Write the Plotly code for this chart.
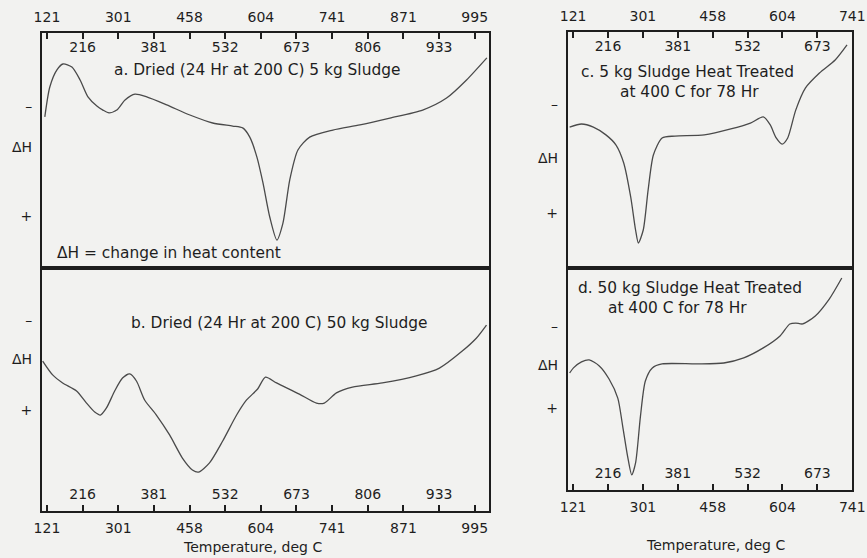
import plotly.graph_objects as go

# ---------------- data ----------------
# temperature scale labels (evenly spaced divisions of the recorder chart)
temps_left = [121, 216, 301, 381, 458, 532, 604, 673, 741, 806, 871, 933, 995]
temps_right = [121, 216, 301, 381, 458, 532, 604, 673, 741]

# a. Dried (24 Hr at 200 C) 5 kg Sludge  -- x: scale division, y: deflection (% of panel height)
a_pos = [-0.06, 0.08, 0.28, 0.45, 0.70, 0.93, 1.15, 1.40, 1.57, 1.74, 1.96, 2.19, 2.47, 2.80,
         3.36, 4.01, 4.65, 5.21, 5.49, 5.69, 5.89, 6.06, 6.25, 6.45, 6.62, 6.81, 7.04, 7.37,
         8.02, 8.78, 9.62, 10.54, 11.21, 11.77, 12.34]
a_dh = [64.3, 77.0, 84.3, 86.8, 85.5, 80.0, 72.8, 68.9, 67.2, 66.0, 67.2, 71.5, 74.0, 72.8,
        69.4, 65.1, 61.7, 60.4, 59.6, 55.7, 47.2, 36.2, 21.7, 11.9, 19.1, 37.4, 50.2, 55.7,
        58.7, 60.9, 63.8, 67.2, 72.3, 80.0, 89.4]

# b. Dried (24 Hr at 200 C) 50 kg Sludge
b_pos = [-0.12, 0.16, 0.44, 0.83, 1.11, 1.34, 1.50, 1.67, 1.90, 2.12, 2.32, 2.51, 2.74, 3.07,
         3.44, 3.80, 4.08, 4.25, 4.56, 4.93, 5.32, 5.60, 5.91, 6.13, 6.44, 7.08, 7.56, 7.78,
         8.12, 8.57, 9.41, 10.36, 11.01, 11.65, 12.05, 12.33]
b_dh = [61.7, 56.0, 52.7, 49.4, 44.4, 40.7, 39.5, 42.4, 49.4, 54.7, 56.4, 53.5, 45.7, 39.5,
        31.3, 21.8, 16.9, 16.0, 19.8, 28.8, 39.5, 45.7, 50.2, 55.1, 52.7, 48.1, 44.4, 44.4,
        48.6, 51.0, 52.7, 55.6, 58.8, 65.8, 71.2, 76.5]

# c. 5 kg Sludge Heat Treated at 400 C for 78 Hr
c_pos = [-0.10, 0.24, 0.58, 0.94, 1.23, 1.45, 1.65, 1.79, 1.87, 2.01, 2.15, 2.30, 2.55, 2.92,
         3.76, 4.52, 5.08, 5.45, 5.65, 5.82, 5.99, 6.15, 6.38, 6.66, 7.06, 7.51, 7.85]
c_dh = [59.7, 61.0, 59.7, 56.4, 52.1, 44.5, 30.1, 16.1, 10.6, 16.1, 33.1, 47.9, 55.1, 55.9,
        56.4, 58.9, 61.4, 64.0, 60.6, 55.1, 52.5, 55.1, 66.9, 76.3, 82.6, 88.1, 94.5]

# d. 50 kg Sludge Heat Treated at 400 C for 78 Hr
d_pos = [-0.10, 0.01, 0.24, 0.46, 0.75, 1.03, 1.28, 1.42, 1.56, 1.68, 1.79, 1.93, 2.07, 2.27,
         2.55, 3.56, 4.32, 4.89, 5.45, 5.93, 6.21, 6.38, 6.58, 6.94, 7.34, 7.70]
d_dh = [52.7, 55.0, 57.7, 58.6, 55.9, 50.0, 41.4, 28.8, 15.3, 6.8, 12.2, 33.3, 49.1, 55.0,
        56.8, 56.8, 57.2, 59.5, 64.0, 69.4, 74.8, 75.2, 74.8, 78.4, 86.0, 95.5]

# ---------------- style ----------------
FONT = "DejaVu Sans"
INK = "#1e1e1e"
CURVE = "#4a4a4a"
BG = "#f2f2f0"
TICK_SIZE = 14
NOTE_SIZE = 15.4

L_DOM = [0.0484, 0.564]
R_DOM = [0.655, 0.983]
L_RANGE = [-0.14, 12.4]
R_RANGE = [-0.15, 8.0]

fig = go.Figure()


def curve(x, y, xa, ya):
    fig.add_trace(go.Scatter(x=x, y=y, xaxis=xa, yaxis=ya, mode="lines",
                             line=dict(color=CURVE, width=1.3, shape="spline", smoothing=0.7),
                             hoverinfo="skip"))


curve(a_pos, a_dh, "x", "y")
curve(b_pos, b_dh, "x2", "y2")
curve(c_pos, c_dh, "x3", "y3")
curve(d_pos, d_dh, "x4", "y4")
# dummy traces so the overlay (inside-label) axes are drawn
for xa, ya in [("x5", "y"), ("x6", "y2"), ("x7", "y3"), ("x8", "y4")]:
    fig.add_trace(go.Scatter(x=[None], y=[None], xaxis=xa, yaxis=ya, mode="lines",
                             hoverinfo="skip"))


def outer_xaxis(dom, rng, labels, anchor, side):
    idx = list(range(len(labels)))
    return dict(domain=dom, range=rng, anchor=anchor, side=side, automargin=False,
                tickmode="array", tickvals=idx,
                ticktext=[str(t) if i % 2 == 0 else "" for i, t in enumerate(labels)],
                ticks="inside", ticklen=6, tickwidth=1.5, tickcolor=INK,
                ticklabelstandoff=3,
                showline=True, linewidth=2, linecolor=INK, mirror=True,
                showgrid=False, zeroline=False, fixedrange=True,
                tickfont=dict(family=FONT, size=TICK_SIZE, color=INK))


def inner_xaxis(over, rng, labels, anchor, side):
    idx = [i for i in range(len(labels)) if i % 2 == 1]
    return dict(overlaying=over, range=rng, anchor=anchor, side=side, automargin=False,
                tickmode="array", tickvals=idx, ticktext=[str(labels[i]) for i in idx],
                ticks="", ticklabelposition="inside", ticklabelstandoff=6,
                showline=False, showgrid=False, zeroline=False, fixedrange=True,
                tickfont=dict(family=FONT, size=TICK_SIZE, color=INK))


def yaxis(dom, anchor, vals):
    return dict(domain=dom, range=[0, 100], anchor=anchor, automargin=False,
                tickmode="array", tickvals=vals, ticktext=["+", "ΔH", "–"],
                ticks="", ticklabelstandoff=5,
                showline=True, linewidth=2, linecolor=INK, mirror=True,
                showgrid=False, zeroline=False, fixedrange=True,
                tickfont=dict(family=FONT, size=TICK_SIZE, color=INK))


fig.update_layout(
    width=867, height=558,
    margin=dict(l=0, r=0, t=0, b=0, autoexpand=False),
    paper_bgcolor=BG, plot_bgcolor=BG,
    showlegend=False,
    font=dict(family=FONT, size=TICK_SIZE, color=INK),
    xaxis=outer_xaxis(L_DOM, L_RANGE, temps_left, "y", "top"),
    xaxis2=outer_xaxis(L_DOM, L_RANGE, temps_left, "y2", "bottom"),
    xaxis3=outer_xaxis(R_DOM, R_RANGE, temps_right, "y3", "top"),
    xaxis4=outer_xaxis(R_DOM, R_RANGE, temps_right, "y4", "bottom"),
    xaxis5=inner_xaxis("x", L_RANGE, temps_left, "y", "top"),
    xaxis6=inner_xaxis("x2", L_RANGE, temps_left, "y2", "bottom"),
    xaxis7=inner_xaxis("x3", R_RANGE, temps_right, "y3", "top"),
    xaxis8=inner_xaxis("x4", R_RANGE, temps_right, "y4", "bottom"),
    yaxis=yaxis([0.5197, 0.9409], "x", [22.1, 51.5, 68.9]),
    yaxis2=yaxis([0.0842, 0.5197], "x2", [41.6, 62.6, 78.6]),
    yaxis3=yaxis([0.5197, 0.9427], "x3", [23.3, 46.6, 69.5]),
    yaxis4=yaxis([0.1219, 0.5197], "x4", [36.9, 56.3, 73.9]),
)

notes = [
    ("x", "y", 5.88, 84.3, "a. Dried (24 Hr at 200 C) 5 kg Sludge", "center"),
    ("x", "y", 0.22, 6.4, "ΔH = change in heat content", "left"),
    ("x2", "y2", 6.53, 77.4, "b. Dried (24 Hr at 200 C) 50 kg Sludge", "center"),
    ("x3", "y3", 3.28, 83.1, "c. 5 kg Sludge Heat Treated", "center"),
    ("x3", "y3", 3.33, 74.6, "at 400 C for 78 Hr", "center"),
    ("x4", "y4", 3.34, 91.0, "d. 50 kg Sludge Heat Treated", "center"),
    ("x4", "y4", 3.0, 82.0, "at 400 C for 78 Hr", "center"),
]
for xr, yr, x, y, t, anc in notes:
    fig.add_annotation(xref=xr, yref=yr, x=x, y=y, text=t, showarrow=False,
                       xanchor=anc, yanchor="middle",
                       font=dict(family=FONT, size=NOTE_SIZE, color=INK))

fig.add_annotation(xref="x2 domain", yref="paper", x=0.47, y=0.0197,
                   text="Temperature, deg C", showarrow=False,
                   xanchor="center", yanchor="middle",
                   font=dict(family=FONT, size=TICK_SIZE, color=INK))
fig.add_annotation(xref="x4 domain", yref="paper", x=0.518, y=0.024,
                   text="Temperature, deg C", showarrow=False,
                   xanchor="center", yanchor="middle",
                   font=dict(family=FONT, size=TICK_SIZE, color=INK))

# remove the browser's default 8px page margin so the figure fills the window exactly
fig.write_html("out.html",
               config={"displayModeBar": False},
               post_script="document.body.style.margin='0';document.body.style.background='%s';" % BG)
